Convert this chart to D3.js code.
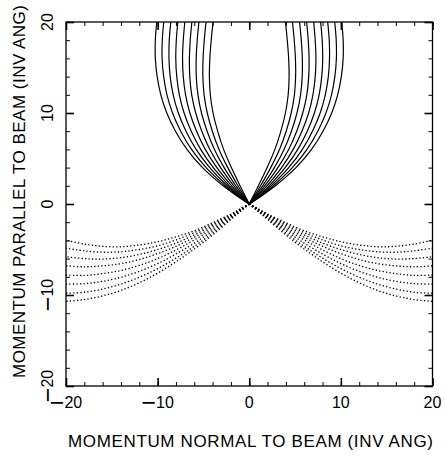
<!DOCTYPE html>
<html><head><meta charset="utf-8">
<script src="https://cdn.jsdelivr.net/npm/d3@7"></script>
<style>body{margin:0;background:#fff}svg{display:block}</style>
</head><body>
<svg id="chart" width="445" height="459"></svg>
<script>
// Axis ticks and titles
const xTickLabels = [-20, -10, 0, 10, 20];
const yTickLabels = [-20, -10, 0, 10, 20];
const xTitle = "MOMENTUM NORMAL TO BEAM (INV ANG)";
const yTitle = "MOMENTUM PARALLEL TO BEAM (INV ANG)";

// Forward (solid) branches: normal momentum reached at each parallel-momentum level
const forwardLevels = [0, 1, 2, 4, 6, 8, 10, 12, 14, 16, 18, 20];
const forwardCurves = [
  [0, 0.5, 1.0, 1.95, 2.8, 3.45, 3.95, 4.25, 4.35, 4.3, 4.15, 3.95],
  [0, 0.63, 1.23, 2.34, 3.3, 4.03, 4.58, 4.93, 5.06, 5.04, 4.91, 4.72],
  [0, 0.75, 1.46, 2.74, 3.8, 4.6, 5.21, 5.6, 5.78, 5.79, 5.68, 5.49],
  [0, 0.88, 1.69, 3.13, 4.3, 5.18, 5.84, 6.28, 6.49, 6.53, 6.44, 6.26],
  [0, 1.0, 1.93, 3.53, 4.8, 5.75, 6.48, 6.95, 7.2, 7.28, 7.2, 7.03],
  [0, 1.13, 2.16, 3.92, 5.3, 6.33, 7.11, 7.63, 7.91, 8.02, 7.96, 7.79],
  [0, 1.25, 2.39, 4.31, 5.8, 6.9, 7.74, 8.3, 8.63, 8.76, 8.73, 8.56],
  [0, 1.38, 2.62, 4.71, 6.3, 7.48, 8.37, 8.98, 9.34, 9.51, 9.49, 9.33],
  [0, 1.5, 2.85, 5.1, 6.8, 8.05, 9.0, 9.65, 10.05, 10.25, 10.25, 10.1]
];

// Backward (dotted) branches: parallel momentum reached at each normal-momentum level
const backwardLevels = [0, 1, 2, 4, 6, 8, 10, 12, 14, 16, 18, 20];
const backwardCurves = [
  [0, -0.55, -1.1, -2.05, -2.95, -3.6, -4.15, -4.5, -4.7, -4.65, -4.4, -4.0],
  [0, -0.58, -1.15, -2.2, -3.15, -3.95, -4.6, -5.0, -5.25, -5.3, -5.15, -4.85],
  [0, -0.6, -1.2, -2.35, -3.4, -4.3, -5.0, -5.55, -5.9, -6.05, -6.0, -5.8],
  [0, -0.65, -1.3, -2.55, -3.65, -4.65, -5.45, -6.1, -6.55, -6.8, -6.9, -6.8],
  [0, -0.7, -1.4, -2.75, -3.95, -5.05, -6.0, -6.75, -7.3, -7.65, -7.85, -7.8],
  [0, -0.75, -1.5, -2.95, -4.3, -5.5, -6.55, -7.4, -8.05, -8.5, -8.75, -8.8],
  [0, -0.8, -1.6, -3.2, -4.65, -5.95, -7.1, -8.05, -8.8, -9.35, -9.7, -9.8],
  [0, -0.85, -1.7, -3.4, -4.95, -6.35, -7.6, -8.65, -9.5, -10.1, -10.5, -10.7]
];

// Each branch appears on both sides of the beam (normal momentum +/-)
const sides = [1, -1];

const svg = d3.select("#chart");
const frame = { left: 66, right: 432.5, top: 22, bottom: 386 };
const x = d3.scaleLinear().domain([-20, 20]).range([frame.left, frame.right]);
const y = d3.scaleLinear().domain([-20, 20]).range([frame.bottom, frame.top]);
const font = "'Liberation Sans', Arial, Helvetica, sans-serif";

svg.append("defs").append("clipPath").attr("id", "plotClip")
  .append("rect")
  .attr("x", frame.left).attr("y", frame.top)
  .attr("width", frame.right - frame.left).attr("height", frame.bottom - frame.top);

const plot = svg.append("g").attr("clip-path", "url(#plotClip)");
const line = d3.line().x(d => x(d[0])).y(d => y(d[1])).curve(d3.curveCatmullRom.alpha(0.5));

sides.forEach(s => {
  forwardCurves.forEach(c => {
    const pts = c.map((v, i) => [s * v, forwardLevels[i]]);
    plot.append("path").attr("d", line(pts))
      .attr("fill", "none").attr("stroke", "#000").attr("stroke-width", 1.2);
  });
  backwardCurves.forEach(c => {
    const pts = c.map((v, i) => [s * backwardLevels[i], v]);
    plot.append("path").attr("d", line(pts))
      .attr("fill", "none").attr("stroke", "#000").attr("stroke-width", 1.3)
      .attr("stroke-dasharray", "1.3,2.2");
  });
});

// Inward ticks on all four sides: minor every 2, major every 10
const minor = d3.range(-20, 20.001, 2);
const major = d3.range(-20, 20.001, 10);
function tickAxes(vals, len, w) {
  const specs = [
    [d3.axisBottom(x), `translate(0,${frame.bottom})`],
    [d3.axisTop(x), `translate(0,${frame.top})`],
    [d3.axisLeft(y), `translate(${frame.left},0)`],
    [d3.axisRight(y), `translate(${frame.right},0)`]
  ];
  specs.forEach(([ax, tr]) => {
    const g = svg.append("g").attr("transform", tr)
      .call(ax.tickValues(vals).tickSize(-len).tickFormat(""));
    g.select(".domain").remove();
    g.selectAll("line").attr("stroke", "#000").attr("stroke-width", w);
  });
}
tickAxes(minor, 4, 1);
tickAxes(major, 8, 1.6);

svg.append("rect")
  .attr("x", frame.left).attr("y", frame.top)
  .attr("width", frame.right - frame.left).attr("height", frame.bottom - frame.top)
  .attr("fill", "none").attr("stroke", "#000").attr("stroke-width", 1.3);

// Tick labels with a long minus sign
function tickLabel(sel) {
  sel.each(function (d) {
    const t = d3.select(this);
    if (d < 0) {
      t.append("tspan").attr("font-size", 25).attr("dy", 3).text("\u2212");
      t.append("tspan").attr("dy", -3).text(Math.abs(d));
    } else {
      t.text(String(d));
    }
  });
}

svg.append("g").selectAll("text").data(xTickLabels).join("text")
  .attr("x", d => x(d)).attr("y", 408)
  .attr("text-anchor", "middle")
  .attr("font-family", font).attr("font-size", 16)
  .call(tickLabel);

svg.append("g").selectAll("text").data(yTickLabels).join("text")
  .attr("transform", d => `translate(53,${y(d)}) rotate(-90)`)
  .attr("text-anchor", "middle")
  .attr("font-family", font).attr("font-size", 16)
  .call(tickLabel);

svg.append("text")
  .attr("x", 68).attr("y", 447)
  .attr("textLength", 365).attr("lengthAdjust", "spacing")
  .attr("font-family", font).attr("font-size", 17)
  .text(xTitle);

svg.append("text")
  .attr("transform", "translate(25,378) rotate(-90)")
  .attr("textLength", 373).attr("lengthAdjust", "spacing")
  .attr("font-family", font).attr("font-size", 17)
  .text(yTitle);
</script>
</body></html>
